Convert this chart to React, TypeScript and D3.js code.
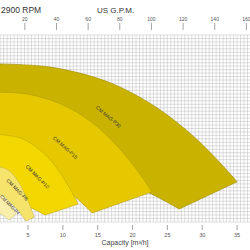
import React from "react";
import * as d3 from "d3";

const W = 250;
const H = 250;

const gpmTicks = [20, 40, 60, 80, 100, 120, 140, 160];
const capTicks = [5, 10, 15, 20, 25, 30, 35];
const GPM_PER_M3H = 4.403;

const models = ["CM MAG-P30", "CM MAG-P15", "CM MAG-P10", "CM MAG-P6", "CM MAG-P4"];
const colors = ["#c9b300", "#e6c800", "#f2d800", "#f6e36c", "#f9eeaa"];
const strokes = ["#9c8a00", "#b49c00", "#bfa800", "#c9b24a", "#cfc07a"];

// max impeller curves (Q m3/h, H m)
const p30MaxQ = [0, 8, 15, 19, 23.5, 28.5, 33.3, 35];
const p30MaxH = [45.7, 44.8, 41.5, 38.2, 33, 25.2, 15.5, 11.6];
const p30MinQ = [0, 10, 18, 22, 26.7];
const p30MinH = [16.8, 15.7, 12, 8.8, 3.75];

const p15MaxQ = [0, 5, 10, 14, 18, 21, 22.8];
const p15MaxH = [37.5, 36.9, 33.8, 29.0, 21.5, 14.0, 8.7];
const p15MinQ = [0, 5, 10, 12, 14.2];
const p15MinH = [14.9, 14.0, 9.7, 6.8, 2.6];

const p10MaxQ = [0, 4, 7, 9, 11, 12.2];
const p10MaxH = [25.4, 24.2, 20.3, 15.9, 9.7, 5.2];
const p10MinQ = [0, 4, 7.44];
const p10MinH = [6.4, 5.3, 2.0];

const p6MaxQ = [0, 2, 3.5, 5, 5.9];
const p6MaxH = [16.2, 15.2, 12.0, 6.1, 1.4];
const p6MinQ = [0, 2.5, 4.7];
const p6MinH = [7.5, 5.5, 0.3];

const p4MaxQ = [0, 1.5, 2.5, 3.27];
const p4MaxH = [8.4, 7.5, 5.3, 2.3];
const p4MinQ = [0, 1.2, 2.27];
const p4MinH = [2.9, 2.2, 0.6];

const labelQ = [16.5, 10.3, 6.3, 3.4, 2.35];
const labelH = [30.3, 21.4, 13.0, 9.2, 4.9];
const labelAngle = [40, 42, 45, 45, 45];
const labelSize = [5, 5, 5, 5, 4.5];

const maxQs = [p30MaxQ, p15MaxQ, p10MaxQ, p6MaxQ, p4MaxQ];
const maxHs = [p30MaxH, p15MaxH, p10MaxH, p6MaxH, p4MaxH];
const minQs = [p30MinQ, p15MinQ, p10MinQ, p6MinQ, p4MinQ];
const minHs = [p30MinH, p15MinH, p10MinH, p6MinH, p4MinH];

const x = d3.scaleLinear().domain([0, 37]).range([-6.8, 251]);
const y = d3.scaleLinear().domain([0, 54]).range([222, 35]);

const FONT = "Liberation Sans, Arial, sans-serif";

export default function App() {
  const line = d3
    .line<[number, number]>()
    .x((d) => x(d[0]))
    .y((d) => y(d[1]))
    .curve(d3.curveCatmullRom.alpha(0.5));

  const regions = models.map((m, i) => {
    const up: [number, number][] = maxQs[i].map((q, j) => [q, maxHs[i][j]]);
    const lo: [number, number][] = minQs[i].map((q, j) => [q, minHs[i][j]]).reverse() as [number, number][];
    const d = (line(up) || "") + (line(lo) || "").replace(/^M/, "L") + "Z";
    return d;
  });

  const vLines = d3.range(0, 37.01, 0.5);
  const hLines = d3.range(0, 54.01, 1);

  return (
    <svg
      width={W}
      height={H}
      style={{ position: "absolute", left: 0, top: 0, background: "#fff" }}
    >
      <rect x={0} y={0} width={W} height={H} fill="#fff" />
      <g stroke="#bcbcbc" strokeWidth={0.5}>
        {vLines.map((q) => (
          <line key={"v" + q} x1={x(q)} x2={x(q)} y1={y(0)} y2={y(54)} />
        ))}
        {hLines.map((h) => (
          <line key={"h" + h} x1={x(0)} x2={x(37)} y1={y(h)} y2={y(h)} />
        ))}
      </g>
      {regions.map((d, i) => (
        <path key={i} d={d} fill={colors[i]} stroke={strokes[i]} strokeWidth={0.6} />
      ))}
      {models.map((m, i) => (
        <text
          key={m}
          transform={`translate(${x(labelQ[i])},${y(labelH[i])}) rotate(${labelAngle[i]})`}
          textAnchor="middle"
          dominantBaseline="middle"
          fontFamily={FONT}
          fontSize={labelSize[i]}
          fill="#333"
        >
          {m}
        </text>
      ))}
      {/* top axis: US GPM */}
      {gpmTicks.map((g) => (
        <g key={"g" + g} transform={`translate(${x(g / GPM_PER_M3H)},0)`}>
          <line y1={23} y2={30} stroke="#666" strokeWidth={0.6} />
          <text y={21} textAnchor="middle" fontFamily={FONT} fontSize={5} fill="#555">
            {g}
          </text>
        </g>
      ))}
      {/* bottom axis: capacity */}
      {capTicks.map((c) => (
        <g key={"c" + c} transform={`translate(${x(c)},0)`}>
          <line y1={225} y2={230} stroke="#666" strokeWidth={0.6} />
          <text y={237} textAnchor="middle" fontFamily={FONT} fontSize={5.5} fill="#555">
            {c}
          </text>
        </g>
      ))}
      <text x={101.5} y={245} fontFamily={FONT} fontSize={7} fill="#444">
        Capacity  [m³/h]
      </text>
      <text x={1} y={13} fontFamily={FONT} fontSize={8.5} fill="#333">
        2900 RPM
      </text>
      <text x={97} y={13} fontFamily={FONT} fontSize={8} fill="#333">
        US G.P.M.
      </text>
    </svg>
  );
}
